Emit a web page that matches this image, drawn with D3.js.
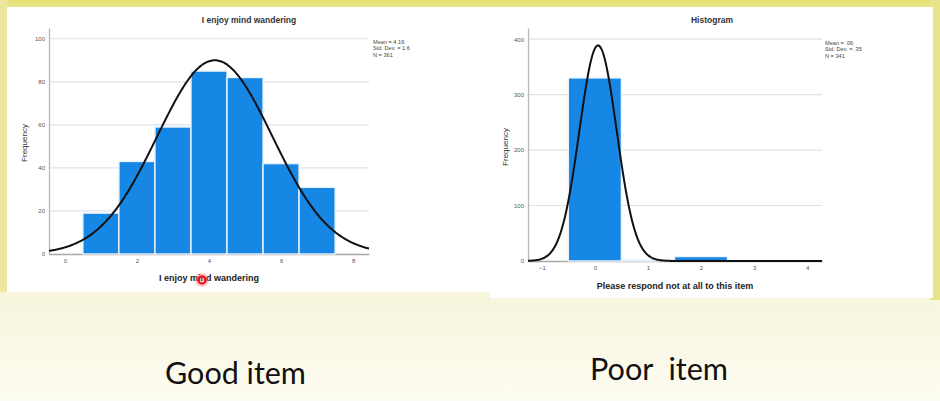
<!DOCTYPE html>
<html>
<head>
<meta charset="utf-8">
<script src="https://cdn.jsdelivr.net/npm/d3@7"></script>
<style>
  html, body { margin: 0; padding: 0; }
  body { width: 940px; height: 401px; overflow: hidden; }
  .chart-text { font-family: "Liberation Sans", Arial, sans-serif; }
  .caption { font-family: Lato, "Open Sans", sans-serif; }
</style>
</head>
<body>
<div id="chart"></div>
<script>
// ===============================
// DATA
// ===============================
const goodTitle = "I enjoy mind wandering";
const goodXLabel = "I enjoy mind wandering";
const goodBins = [1, 2, 3, 4, 5, 6, 7];
const goodCounts = [19, 43, 59, 85, 82, 42, 31];
const goodStats = { mean: 4.16, sd: 1.6, n: 361 };
const goodStatLines = ["Mean = 4.16", "Std. Dev. = 1.6", "N = 361"];
const goodXTicks = [0, 2, 4, 6, 8];
const goodYTicks = [0, 20, 40, 60, 80, 100];

const poorTitle = "Histogram";
const poorXLabel = "Please respond not at all to this item";
const poorBins = [0, 1, 2, 3];
const poorCounts = [330, 2, 8, 1];
const poorStats = { mean: 0.06, sd: 0.35, n: 341 };
const poorStatLines = ["Mean = .06", "Std. Dev. = .35", "N = 341"];
const poorXTicks = [-1, 0, 1, 2, 3, 4];
const poorYTicks = [0, 100, 200, 300, 400];

const captions = ["Good item", "Poor  item"];

// ===============================
// SVG + BACKGROUND
// ===============================
const W = 940, H = 401;
const svg = d3.select("#chart").append("svg")
  .attr("width", W).attr("height", H);

const defs = svg.append("defs");
const bg = defs.append("linearGradient").attr("id", "bg")
  .attr("x1", 0).attr("y1", 0).attr("x2", 0).attr("y2", 1);
bg.append("stop").attr("offset", "0%").attr("stop-color", "#e5df72");
bg.append("stop").attr("offset", "3%").attr("stop-color", "#ebe79a");
bg.append("stop").attr("offset", "74%").attr("stop-color", "#f7f5dc");
bg.append("stop").attr("offset", "100%").attr("stop-color", "#fdfcf2");

svg.append("rect").attr("width", W).attr("height", H).attr("fill", "url(#bg)");
svg.append("rect").attr("x", 0).attr("y", 0).attr("width", 8).attr("height", 292)
  .attr("fill", "#ebe79c");
svg.append("rect").attr("x", 930).attr("y", 0).attr("width", 10).attr("height", 300)
  .attr("fill", "#e8e48a");

// white panels of the screenshot
svg.append("rect").attr("x", 7).attr("y", 7).attr("width", 484).attr("height", 285).attr("fill", "#fff");
svg.append("rect").attr("x", 490).attr("y", 7).attr("width", 443).attr("height", 291).attr("fill", "#fff");

// ===============================
// HISTOGRAM
// ===============================
function drawHistogram(opt) {
  const g = svg.append("g").attr("class", "chart-text");
  const x = d3.scaleLinear().domain(opt.xDomain).range([opt.left, opt.right]);
  const y = d3.scaleLinear().domain(opt.yDomain).range([opt.bottom, opt.top]);

  // gridlines
  g.selectAll(".grid")
    .data(opt.yTicks.filter((d) => d > 0))
    .join("line")
    .attr("x1", opt.left).attr("x2", opt.right)
    .attr("y1", (d) => y(d)).attr("y2", (d) => y(d))
    .attr("stroke", "#dfe2e8").attr("stroke-width", 1.2);

  // y axis
  const yAxis = g.append("g")
    .attr("transform", `translate(${opt.left},0)`)
    .call(d3.axisLeft(y).tickValues(opt.yTicks).tickFormat(d3.format("d")).tickSize(0).tickPadding(4));
  yAxis.select(".domain").attr("stroke", "#b8b8b8").attr("stroke-width", 1.3);
  yAxis.selectAll("text").attr("font-size", 6).attr("fill", "#555")
    .attr("font-family", "Liberation Sans, Arial, sans-serif");

  // x axis
  const xAxis = g.append("g")
    .attr("transform", `translate(0,${opt.bottom})`)
    .call(d3.axisBottom(x).tickValues(opt.xTicks).tickFormat(d3.format("d")).tickSize(0).tickPadding(opt.xPad));
  xAxis.select(".domain").attr("stroke", "#a8a8a8").attr("stroke-width", 1.5);
  xAxis.selectAll("text").attr("font-size", 6).attr("fill", "#555")
    .attr("font-family", "Liberation Sans, Arial, sans-serif");

  // bars
  g.selectAll(".bar")
    .data(opt.bins.map((b, i) => ({ b, c: opt.counts[i] })))
    .join("rect")
    .attr("x", (d) => x(d.b - 0.5))
    .attr("width", (d) => x(d.b + 0.5) - x(d.b - 0.5))
    .attr("y", (d) => y(d.c))
    .attr("height", (d) => y(0) - y(d.c))
    .attr("fill", "#1787e6")
    .attr("stroke", "#eaf4fd")
    .attr("stroke-width", 1.4);

  // normal curve (SPSS overlay from mean / sd / N)
  const s = opt.stats;
  const curve = d3.range(opt.xDomain[0], opt.xDomain[1] + 1e-9, (opt.xDomain[1] - opt.xDomain[0]) / 300)
    .map((v) => [v, s.n / (s.sd * Math.sqrt(2 * Math.PI)) * Math.exp(-0.5 * ((v - s.mean) / s.sd) ** 2)]);
  g.append("path")
    .datum(curve)
    .attr("fill", "none")
    .attr("stroke", "#111")
    .attr("stroke-width", 2)
    .attr("d", d3.line().x((d) => x(d[0])).y((d) => y(d[1])).curve(d3.curveBasis));

  // title
  g.append("text")
    .attr("x", opt.titleX).attr("y", opt.titleY)
    .attr("text-anchor", "middle").attr("font-size", 8.5).attr("font-weight", "bold")
    .attr("fill", "#333").text(opt.title);

  // x label
  g.append("text")
    .attr("x", opt.xLabelX).attr("y", opt.xLabelY)
    .attr("text-anchor", "middle").attr("font-size", 9).attr("font-weight", "bold")
    .attr("fill", "#222").text(opt.xLabel);

  // y label
  g.append("text")
    .attr("transform", `translate(${opt.yLabelX},${opt.yLabelY}) rotate(-90)`)
    .attr("text-anchor", "middle").attr("font-size", 8)
    .attr("fill", "#333").text("Frequency");

  // stats box
  g.selectAll(".stat")
    .data(opt.statLines)
    .join("text")
    .attr("x", opt.statX)
    .attr("y", (d, i) => opt.statY + i * 6.3)
    .attr("font-size", 5.6).attr("fill", "#444")
    .text((d) => d);
}

drawHistogram({
  title: goodTitle, xLabel: goodXLabel,
  bins: goodBins, counts: goodCounts, stats: goodStats, statLines: goodStatLines,
  xTicks: goodXTicks, yTicks: goodYTicks,
  xDomain: [-0.44, 8.44], yDomain: [0, 105],
  left: 49, right: 369, top: 28, bottom: 254, xPad: 5,
  titleX: 249, titleY: 23, xLabelX: 209, xLabelY: 281,
  yLabelX: 27, yLabelY: 143, statX: 373, statY: 44
});

drawHistogram({
  title: poorTitle, xLabel: poorXLabel,
  bins: poorBins, counts: poorCounts, stats: poorStats, statLines: poorStatLines,
  xTicks: poorXTicks, yTicks: poorYTicks,
  xDomain: [-1.26, 4.28], yDomain: [0, 420],
  left: 528, right: 822, top: 28, bottom: 261, xPad: 5,
  titleX: 712, titleY: 23, xLabelX: 675, xLabelY: 289,
  yLabelX: 508, yLabelY: 147, statX: 825, statY: 45
});

// presenter's pointer mark
svg.append("circle").attr("cx", 202).attr("cy", 280).attr("r", 7)
  .attr("fill", "#ff6b6b").attr("opacity", 0.35);
svg.append("circle").attr("cx", 202).attr("cy", 280).attr("r", 3.6)
  .attr("fill", "none").attr("stroke", "#e8161b").attr("stroke-width", 2.2);

// ===============================
// CAPTIONS
// ===============================
const capPos = [{ x: 165, w: 141, y: 384 }, { x: 590, w: 138, y: 380 }];
captions.forEach((c, i) => {
  const t = svg.append("text")
    .attr("class", "caption")
    .attr("x", capPos[i].x).attr("y", capPos[i].y)
    .attr("font-size", 32).attr("fill", "#111")
    .style("white-space", "pre")
    .text(c);
  const len = t.node().getComputedTextLength();
  t.attr("font-size", 32 * capPos[i].w / len);
});
</script>
</body>
</html>
